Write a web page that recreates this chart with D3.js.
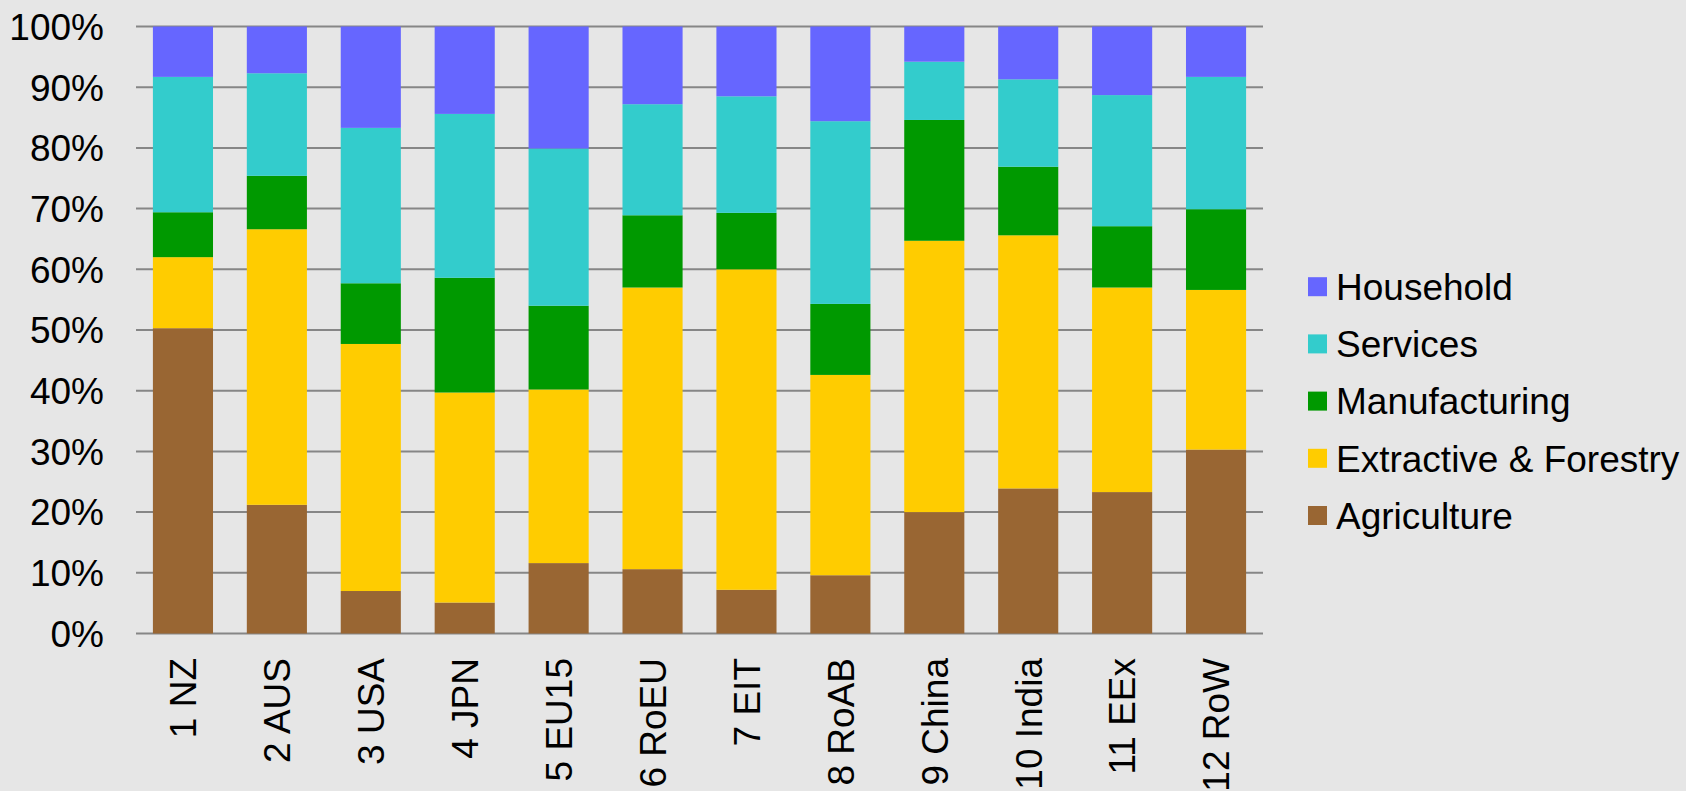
<!DOCTYPE html>
<html>
<head>
<meta charset="utf-8">
<script src="https://cdn.jsdelivr.net/npm/d3@7"></script>
<style>
  html, body { margin: 0; padding: 0; background: #e6e6e6; }
  svg { display: block; }
  text { font-family: Arial, "Liberation Sans", sans-serif; fill: #000; }
</style>
</head>
<body>
<svg id="chart" width="1686" height="791"></svg>
<script>
// Regions along the x axis
const regions = ["1 NZ", "2 AUS", "3 USA", "4 JPN", "5 EU15", "6 RoEU", "7 EIT", "8 RoAB", "9 China", "10 India", "11 EEx", "12 RoW"];

// Sector shares per region (percent)
const agriculture   = [50.3, 21.2,  7.0,  5.1, 11.6, 10.6,  7.2,  9.6, 20.0, 23.9, 23.3, 30.3];
const extractive    = [11.7, 45.4, 40.7, 34.6, 28.6, 46.4, 52.8, 33.0, 44.7, 41.7, 33.7, 26.3];
const manufacturing = [ 7.4,  8.8, 10.0, 18.9, 13.8, 11.9,  9.3, 11.7, 19.9, 11.3, 10.1, 13.3];
const services      = [22.3, 16.9, 25.6, 27.0, 25.9, 18.3, 19.2, 30.1,  9.6, 14.4, 21.6, 21.8];
const household     = [ 8.3,  7.7, 16.7, 14.4, 20.1, 12.8, 11.5, 15.6,  5.8,  8.7, 11.3,  8.3];

// Series from bottom to top of each stack
const seriesNames = ["Agriculture", "Extractive & Forestry", "Manufacturing", "Services", "Household"];
const seriesValues = [agriculture, extractive, manufacturing, services, household];
const seriesColors = ["#996633", "#ffcc00", "#009900", "#33cccc", "#6666ff"];

// Y axis tick values and labels
const yTicks = [0, 0.1, 0.2, 0.3, 0.4, 0.5, 0.6, 0.7, 0.8, 0.9, 1];

const svg = d3.select("#chart");
const plot = { left: 136, right: 1263, top: 26.5, bottom: 633.5 };

const rows = regions.map((r, i) => {
  const row = { region: r };
  seriesNames.forEach((s, k) => { row[s] = seriesValues[k][i]; });
  return row;
});

const stacked = d3.stack()
  .keys(seriesNames)
  .offset(d3.stackOffsetExpand)(rows);

const x = d3.scaleBand()
  .domain(regions)
  .range([plot.left, plot.right])
  .paddingInner(0.36)
  .paddingOuter(0.18);

const y = d3.scaleLinear()
  .domain([0, 1])
  .range([plot.bottom, plot.top]);

const color = d3.scaleOrdinal().domain(seriesNames).range(seriesColors);

// Gridlines
svg.append("g")
  .selectAll("line")
  .data(yTicks)
  .join("line")
  .attr("x1", plot.left)
  .attr("x2", plot.right)
  .attr("y1", d => y(d))
  .attr("y2", d => y(d))
  .attr("stroke", "#868686")
  .attr("stroke-width", 2);

// Stacked bars
svg.append("g")
  .selectAll("g")
  .data(stacked)
  .join("g")
  .attr("fill", d => color(d.key))
  .selectAll("rect")
  .data(d => d)
  .join("rect")
  .attr("x", d => x(d.data.region))
  .attr("width", x.bandwidth())
  .attr("y", d => y(d[1]))
  .attr("height", d => y(d[0]) - y(d[1]));

// Y tick labels
const fmt = d3.format(".0%");
svg.append("g")
  .selectAll("text")
  .data(yTicks)
  .join("text")
  .attr("x", 104)
  .attr("y", d => y(d))
  .attr("dy", "0.36em")
  .attr("text-anchor", "end")
  .style("font-size", "37px")
  .text(d => fmt(d));

// X tick labels, rotated
svg.append("g")
  .selectAll("text")
  .data(regions)
  .join("text")
  .attr("transform", d => `translate(${x(d) + x.bandwidth() / 2},658) rotate(-90)`)
  .attr("dy", "0.36em")
  .attr("text-anchor", "end")
  .style("font-size", "37px")
  .text(d => d);

// Legend (top entry is the top series)
const legendItems = seriesNames.slice().reverse();
const legend = svg.append("g")
  .selectAll("g")
  .data(legendItems)
  .join("g")
  .attr("transform", (d, i) => `translate(1308,${286.7 + i * 57.2})`);

legend.append("rect")
  .attr("x", 0)
  .attr("y", -9.5)
  .attr("width", 19)
  .attr("height", 19)
  .attr("fill", d => color(d));

legend.append("text")
  .attr("x", 28)
  .attr("y", 0)
  .attr("dy", "0.36em")
  .style("font-size", "37px")
  .text(d => d);
</script>
</body>
</html>
